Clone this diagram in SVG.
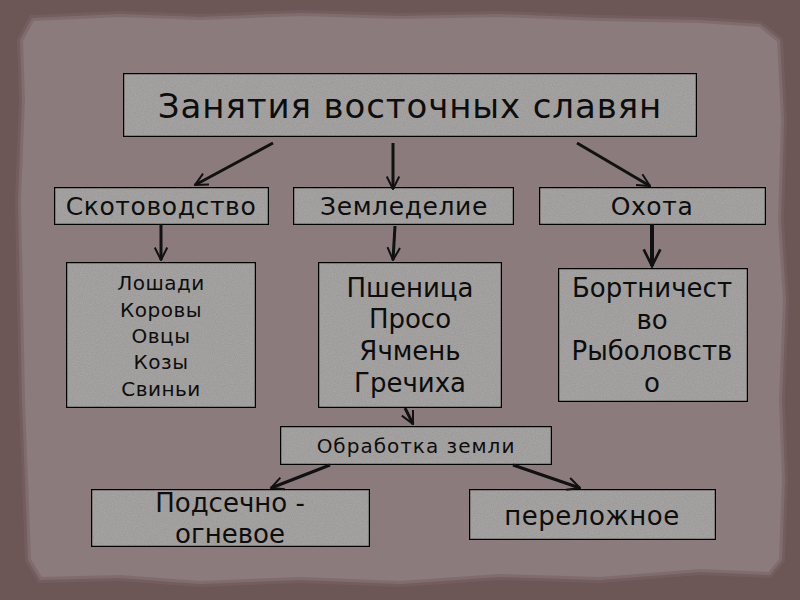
<svg xmlns="http://www.w3.org/2000/svg" width="800" height="600" viewBox="0 0 800 600">
<defs>
<style>
.box{fill:#aca9a9;stroke:#111;stroke-width:1.5}
.t{font-family:"DejaVu Sans","Noto Sans",sans-serif;fill:#0d0d0d;text-anchor:middle}
.c{stroke:#111;stroke-width:3;fill:none;marker-end:url(#ah)}
</style>
<marker id="ah" viewBox="0 0 12 12" refX="11" refY="6" markerWidth="5" markerHeight="5" orient="auto" markerUnits="strokeWidth">
<path d="M1,1 L11,6 L1,11" fill="none" stroke="#111" stroke-width="1.6"/>
</marker>
<filter id="grain" x="0" y="0" width="100%" height="100%">
<feTurbulence type="fractalNoise" baseFrequency="0.9" numOctaves="2" seed="3" result="n"/>
<feColorMatrix in="n" type="matrix" values="0 0 0 0 0  0 0 0 0 0  0 0 0 0 0  0 0 0 0.25 0" result="a"/>
<feComposite in="a" in2="SourceGraphic" operator="in" result="b"/>
<feMerge><feMergeNode in="SourceGraphic"/><feMergeNode in="b"/></feMerge>
</filter>
</defs>
<rect width="800" height="600" fill="#6c5656"/>
<path d="M32,18 L120,14 L200,17 L300,13 L400,16 L500,14 L600,18 L700,20 L760,24 L780,40 L784,120 L781,220 L786,300 L782,400 L785,480 L782,560 L770,575 L700,572 L600,580 L500,577 L400,584 L300,580 L200,584 L120,578 L40,580 L28,560 L25,480 L22,400 L20,300 L18,200 L22,100 L20,40 Z" fill="#8b7b7c"/>
<path d="M32,18 L120,14 L200,17 L300,13 L400,16 L500,14 L600,18 L700,20 L760,24 L780,40 L784,120 L781,220 L786,300 L782,400 L785,480 L782,560 L770,575 L700,572 L600,580 L500,577 L400,584 L300,580 L200,584 L120,578 L40,580 L28,560 L25,480 L22,400 L20,300 L18,200 L22,100 L20,40 Z" fill="none" stroke="#7a6264" stroke-width="6" opacity="0.6"/>
<g id="n-title"><rect class="box" x="123.5" y="73.5" width="573" height="63" filter="url(#grain)"/><text class="t" x="410" y="118" font-size="34" letter-spacing="0.9">Занятия восточных славян</text></g>
<g id="n-skot"><rect class="box" x="54.5" y="187.5" width="214" height="37" filter="url(#grain)"/><text class="t" x="161" y="215" font-size="25" letter-spacing="0.6">Скотоводство</text></g>
<g id="n-zeml"><rect class="box" x="293.5" y="187.5" width="220" height="37" filter="url(#grain)"/><text class="t" x="404" y="215" font-size="25" letter-spacing="0.6">Земледелие</text></g>
<g id="n-ohota"><rect class="box" x="539.5" y="187.5" width="226" height="37" filter="url(#grain)"/><text class="t" x="652" y="215" font-size="25" letter-spacing="0.6">Охота</text></g>
<g id="n-animals"><rect class="box" x="66.5" y="262.5" width="189" height="145" filter="url(#grain)"/>
<text class="t" font-size="20" letter-spacing="0.5"><tspan x="161" y="290">Лошади</tspan><tspan x="161" y="317">Коровы</tspan><tspan x="161" y="343">Овцы</tspan><tspan x="161" y="369">Козы</tspan><tspan x="161" y="396">Свиньи</tspan></text></g>
<g id="n-crops"><rect class="box" x="318.5" y="262.5" width="183" height="145" filter="url(#grain)"/>
<text class="t" font-size="26"><tspan x="410" y="297">Пшеница</tspan><tspan x="410" y="328">Просо</tspan><tspan x="410" y="360">Ячмень</tspan><tspan x="410" y="392">Гречиха</tspan></text></g>
<g id="n-bort"><rect class="box" x="558.5" y="268.5" width="189" height="133" filter="url(#grain)"/>
<text class="t" font-size="26"><tspan x="652" y="297">Бортничест</tspan><tspan x="652" y="329">во</tspan><tspan x="652" y="360">Рыболовств</tspan><tspan x="652" y="392">о</tspan></text></g>
<g id="n-obr"><rect class="box" x="280.5" y="426.5" width="271" height="38" filter="url(#grain)"/><text class="t" x="416" y="453" font-size="20" letter-spacing="1">Обработка земли</text></g>
<g id="n-podsech"><rect class="box" x="91.5" y="489.5" width="278" height="57" filter="url(#grain)"/>
<text class="t" font-size="26"><tspan x="230" y="512">Подсечно -</tspan><tspan x="230" y="543">огневое</tspan></text></g>
<g id="n-perel"><rect class="box" x="469.5" y="489.5" width="246" height="50" filter="url(#grain)"/><text class="t" x="592" y="525" font-size="26" letter-spacing="0.5">переложное</text></g>
<g id="connectors">
<path class="c" d="M273,143 L195,185"/>
<path class="c" d="M393,143 L393,189"/>
<path class="c" d="M577,143 L650,186"/>
<path class="c" d="M161,224 L161,260"/>
<path class="c" d="M395,226 L393,260"/>
<path class="c" d="M652,224 L652,266" style="stroke-width:4"/>
<path class="c" d="M405,408 L413,424"/>
<path class="c" d="M330,465 L271,488"/>
<path class="c" d="M513,465 L580,488"/>
</g>
</svg>
